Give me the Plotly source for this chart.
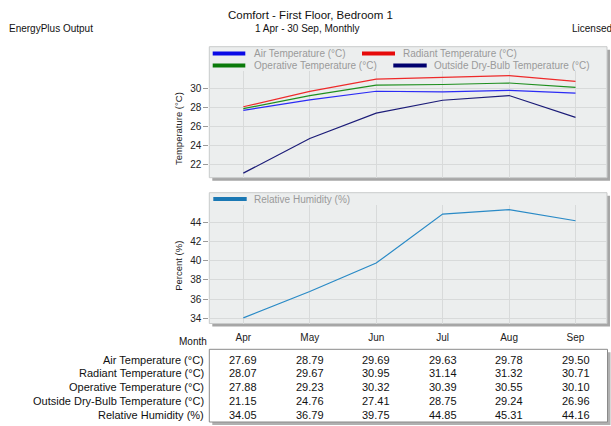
import plotly.graph_objects as go

# ---------------- data ----------------
months = ["Apr", "May", "Jun", "Jul", "Aug", "Sep"]
air_temp = [27.69, 28.79, 29.69, 29.63, 29.78, 29.50]
radiant_temp = [28.07, 29.67, 30.95, 31.14, 31.32, 30.71]
operative_temp = [27.88, 29.23, 30.32, 30.39, 30.55, 30.10]
outside_temp = [21.15, 24.76, 27.41, 28.75, 29.24, 26.96]
rel_humidity = [34.05, 36.79, 39.75, 44.85, 45.31, 44.16]

temp_names = ["Air Temperature (°C)", "Radiant Temperature (°C)",
              "Operative Temperature (°C)", "Outside Dry-Bulb Temperature (°C)"]
rh_name = "Relative Humidity (%)"
temp_ticks = [22, 24, 26, 28, 30]
rh_ticks = [34, 36, 38, 40, 42, 44]

title = "Comfort - First Floor, Bedroom 1"
subtitle = "1 Apr - 30 Sep, Monthly"

# ---------------- styling ----------------
W, H = 611, 426
FONT = "Liberation Sans, Arial, sans-serif"
temp_colors = ["#2b2bf5", "#ee2a2a", "#1f8f1f", "#1c1c78"]
swatch_colors = ["#0a0ae6", "#e60a0a", "#0a7a0a", "#00006e"]
rh_color = "#2a8ac6"
rh_swatch = "#1a78b4"
grid = "#d8dada"
panel_bg = "#eceeee"
shadow = "#a6a6a6"


def px(x):
    return x / W


def py(y):
    return 1 - y / H


fig = go.Figure()
temp_series = [air_temp, radiant_temp, operative_temp, outside_temp]
for name, vals, col in zip(temp_names, temp_series, temp_colors):
    fig.add_trace(go.Scatter(x=months, y=vals, name=name, mode="lines",
                             line=dict(color=col, width=1.2),
                             xaxis="x", yaxis="y", showlegend=False))
fig.add_trace(go.Scatter(x=months, y=rel_humidity, name=rh_name, mode="lines",
                         line=dict(color=rh_color, width=1.2),
                         xaxis="x2", yaxis="y2", showlegend=False))

XL, XR = 209.3, 607.0
P1_TOP, P1_PLOT_TOP, P1_BOT = 46.7, 71.0, 177.7
P2_TOP, P2_PLOT_TOP, P2_BOT = 192.7, 205.0, 323.5
TB_TOP, TB_BOT, TB_R = 349.3, 422.0, 607.5

shapes = []
annotations = []


def panel(x0, y0, x1, y1):
    shapes.append(dict(type="rect", xref="paper", yref="paper", layer="below",
                       x0=px(x0 + 3), x1=px(x1 + 3), y0=py(y1 + 3), y1=py(y0 + 3),
                       fillcolor=shadow, line=dict(width=0)))
    shapes.append(dict(type="rect", xref="paper", yref="paper", layer="below",
                       x0=px(x0), x1=px(x1), y0=py(y1), y1=py(y0),
                       fillcolor=panel_bg, line=dict(color="#c9cbcb", width=1)))


panel(XL, P1_TOP, XR, P1_BOT)
panel(XL, P2_TOP, XR, P2_BOT)
# table box
shapes.append(dict(type="rect", xref="paper", yref="paper", layer="below",
                   x0=px(XL + 3), x1=px(TB_R + 3), y0=py(TB_BOT + 3), y1=py(TB_TOP + 3),
                   fillcolor="#b0b0b0", line=dict(width=0)))
shapes.append(dict(type="rect", xref="paper", yref="paper", layer="below",
                   x0=px(XL), x1=px(TB_R), y0=py(TB_BOT), y1=py(TB_TOP),
                   fillcolor="white", line=dict(color="#8a8a8a", width=1)))


def legend_item(x0, x1, y, color, text, tx):
    shapes.append(dict(type="line", xref="paper", yref="paper",
                       x0=px(x0), x1=px(x1), y0=py(y), y1=py(y),
                       line=dict(color=color, width=4)))
    annotations.append(dict(xref="paper", yref="paper", x=px(tx), y=py(y),
                            xanchor="left", yanchor="middle", text=text,
                            showarrow=False, borderpad=0,
                            font=dict(size=10, color="#9a9a9a", family=FONT)))


legend_item(212.7, 245.3, 53.5, swatch_colors[0], temp_names[0], 252.5)
legend_item(362.0, 395.0, 53.5, swatch_colors[1], temp_names[1], 401.7)
legend_item(212.7, 245.3, 65.5, swatch_colors[2], temp_names[2], 252.5)
legend_item(393.3, 426.7, 65.5, swatch_colors[3], temp_names[3], 433.3)
legend_item(213.3, 246.7, 199.0, rh_swatch, rh_name, 253.0)

# titles
annotations.append(dict(xref="paper", yref="paper", x=px(310), y=py(15),
                        xanchor="center", yanchor="middle", text=title, showarrow=False,
                        font=dict(size=11.5, color="#111", family=FONT)))
annotations.append(dict(xref="paper", yref="paper", x=px(307.5), y=py(28.3),
                        xanchor="center", yanchor="middle", text=subtitle, showarrow=False,
                        font=dict(size=10, color="#111", family=FONT)))
annotations.append(dict(xref="paper", yref="paper", x=px(7.5), y=py(28.3),
                        xanchor="left", yanchor="middle", text="EnergyPlus Output",
                        showarrow=False, borderpad=0,
                        font=dict(size=10, color="#111", family=FONT)))
annotations.append(dict(xref="paper", yref="paper", x=px(571), y=py(28.3),
                        xanchor="left", yanchor="middle", text="Licensed",
                        showarrow=False, borderpad=0,
                        font=dict(size=10, color="#111", family=FONT)))
# axis titles
annotations.append(dict(xref="paper", yref="paper", x=px(178.3), y=py(128.8),
                        xanchor="center", yanchor="middle", text="Temperature (°C)",
                        textangle=-90, showarrow=False,
                        font=dict(size=9.5, color="#222", family=FONT)))
annotations.append(dict(xref="paper", yref="paper", x=px(178.3), y=py(265.5),
                        xanchor="center", yanchor="middle", text="Percent (%)",
                        textangle=-90, showarrow=False,
                        font=dict(size=9.5, color="#222", family=FONT)))
annotations.append(dict(xref="paper", yref="paper", x=px(207.5), y=py(341),
                        xanchor="right", yanchor="middle", text="Month",
                        showarrow=False, borderpad=0,
                        font=dict(size=10, color="#111", family=FONT)))

# table
table_rows = temp_names + [rh_name]
table_vals = temp_series + [rel_humidity]
for r, (label, vals) in enumerate(zip(table_rows, table_vals)):
    ry = 359.5 + r * 13.8
    annotations.append(dict(xref="paper", yref="paper", x=px(204.5), y=py(ry),
                            xanchor="right", yanchor="middle", text=label,
                            showarrow=False, borderpad=0,
                            font=dict(size=11, color="#111", family=FONT)))
    for m, v in zip(months, vals):
        annotations.append(dict(xref="x2", yref="paper", x=m, y=py(ry),
                                xanchor="center", yanchor="middle", text=f"{v:.2f}",
                                showarrow=False,
                                font=dict(size=11, color="#111", family=FONT)))

xrange = [-0.512, 5.474]
common_x = dict(type="category", range=xrange, showgrid=True, gridcolor=grid,
                gridwidth=1, zeroline=False, showline=False, ticks="",
                domain=[px(XL), px(XR)], fixedrange=True)
common_y = dict(showgrid=True, gridcolor=grid, gridwidth=1, zeroline=False,
                showline=False, ticks="outside", ticklen=5, tickcolor="#9a9a9a",
                tickfont=dict(size=10, color="#222", family=FONT), fixedrange=True)

fig.update_layout(
    width=W, height=H, margin=dict(l=0, r=0, t=0, b=0),
    paper_bgcolor="white", plot_bgcolor="rgba(0,0,0,0)",
    font=dict(family=FONT, color="#222"),
    showlegend=False,
    xaxis=dict(common_x, anchor="y", showticklabels=False),
    yaxis=dict(common_y, anchor="x", domain=[py(P1_BOT), py(P1_PLOT_TOP)],
               range=[20.675, 31.80], tickvals=temp_ticks),
    xaxis2=dict(common_x, anchor="y2", showticklabels=True,
                tickfont=dict(size=10, color="#222", family=FONT),
                ticklabelstandoff=6),
    yaxis2=dict(common_y, anchor="x2", domain=[py(P2_BOT), py(P2_PLOT_TOP)],
                range=[33.46, 45.80], tickvals=rh_ticks),
    shapes=shapes,
    annotations=annotations,
)

fig.write_html("out.html")
